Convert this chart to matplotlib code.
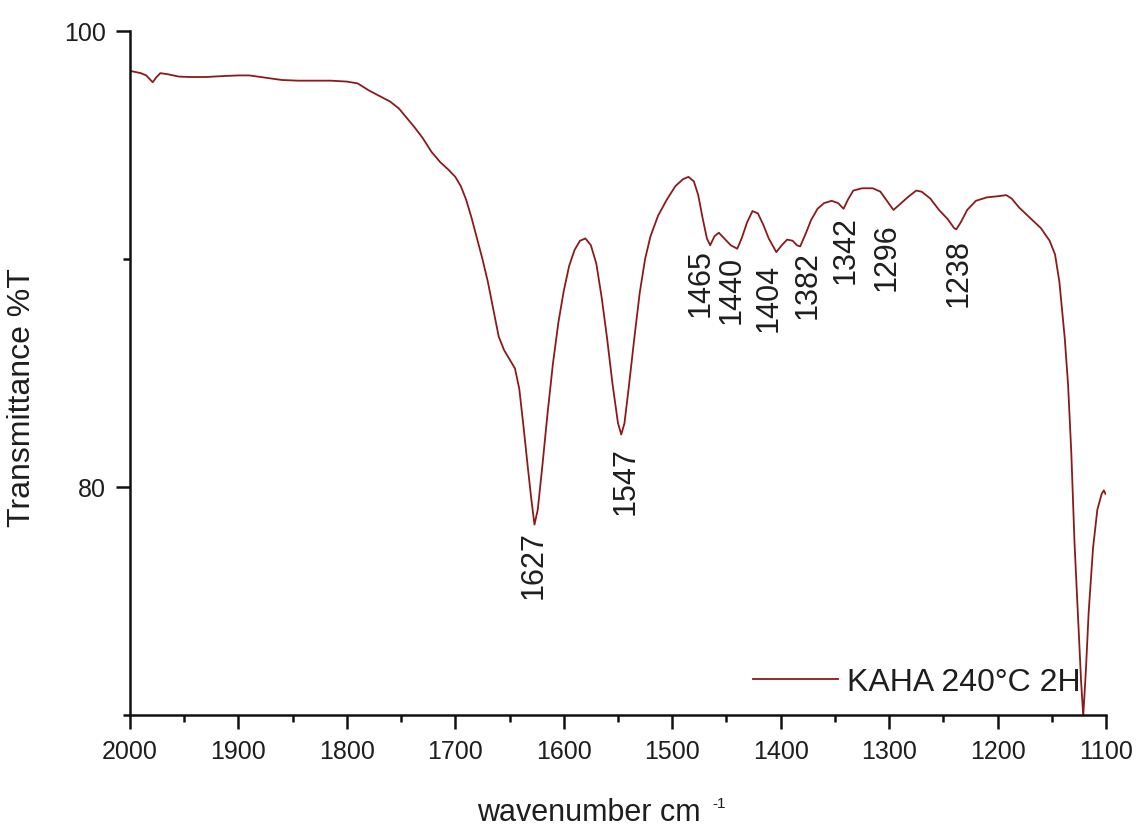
import numpy as np
import matplotlib
matplotlib.use("Agg")
import matplotlib.pyplot as plt
from matplotlib.ticker import MultipleLocator, FixedLocator

plt.rcParams['font.family'] = ['Liberation Sans', 'DejaVu Sans']

# FTIR spectrum, KAHA 240°C 2H
wavenumber = [
    2000, 1995, 1990, 1985, 1981, 1979, 1976, 1972, 1965, 1955, 1945, 1930,
    1915, 1900, 1890, 1875, 1860, 1845, 1830, 1815, 1800, 1790, 1780, 1770,
    1760, 1752, 1745, 1738, 1730, 1722, 1714, 1706, 1700, 1695, 1690, 1685,
    1680, 1675, 1670, 1665, 1660, 1655, 1650, 1645, 1641, 1637, 1633, 1630,
    1627, 1624, 1620, 1615, 1610, 1605, 1600, 1595, 1590, 1585, 1580, 1575,
    1570, 1565, 1560, 1555, 1550, 1547, 1544, 1540, 1535, 1530, 1525, 1520,
    1513, 1505, 1497, 1490, 1485, 1480, 1476, 1472, 1468, 1465, 1461, 1457,
    1452, 1446, 1440, 1436, 1431, 1426, 1421, 1416, 1411, 1404, 1399, 1394,
    1389, 1385, 1382, 1377, 1372, 1366, 1360, 1353, 1347, 1342, 1338, 1333,
    1325, 1315, 1308, 1302, 1296, 1290, 1283, 1275, 1270, 1262, 1254, 1246,
    1240, 1238, 1234, 1228, 1220, 1210, 1200, 1192, 1187, 1180, 1170, 1160,
    1152, 1147, 1143, 1138, 1135, 1132, 1129, 1126, 1123, 1121, 1118.5, 1116,
    1112, 1108, 1104, 1102, 1100.5,
]
transmittance = [
    98.25, 98.20, 98.15, 98.05, 97.85, 97.75, 97.95, 98.15, 98.10, 98.00, 97.98, 97.98,
    98.02, 98.05, 98.05, 97.95, 97.85, 97.82, 97.82, 97.82, 97.78, 97.70, 97.40, 97.15,
    96.90, 96.60, 96.20, 95.80, 95.30, 94.70, 94.25, 93.90, 93.60, 93.20, 92.60, 91.80,
    90.90, 90.00, 89.00, 87.80, 86.60, 86.00, 85.60, 85.20, 84.30, 82.60, 80.80, 79.50,
    78.35, 79.00, 80.80, 83.20, 85.40, 87.20, 88.60, 89.70, 90.40, 90.80, 90.90, 90.60,
    89.80, 88.30, 86.50, 84.50, 82.80, 82.30, 82.80, 84.40, 86.50, 88.50, 90.00, 91.00,
    91.90, 92.60, 93.20, 93.50, 93.60, 93.40, 92.80, 91.80, 90.90, 90.60, 91.00, 91.15,
    90.90, 90.60, 90.45, 90.90, 91.60, 92.10, 92.00, 91.50, 90.90, 90.30, 90.60, 90.85,
    90.80, 90.60, 90.55, 91.10, 91.70, 92.20, 92.45, 92.55, 92.45, 92.20, 92.60, 93.00,
    93.10, 93.10, 92.95, 92.55, 92.15, 92.40, 92.70, 93.00, 92.95, 92.65, 92.15, 91.75,
    91.35, 91.30, 91.60, 92.15, 92.55, 92.70, 92.75, 92.80, 92.65, 92.25, 91.80, 91.35,
    90.80, 90.20, 89.00, 86.50, 84.50, 81.50, 77.50, 74.50, 71.50, 69.95, 72.00, 74.50,
    77.30, 79.00, 79.70, 79.85, 79.70,
]

# Annotated absorption bands
peak_labels = [1627, 1547, 1465, 1440, 1404, 1382, 1342, 1296, 1238]
# Label placement relative to each band minimum (pixels): sideways nudge, gap below
label_dx = [-1, 4, -10, -6, -8, 7, 2, -7, 2]
label_gap = [6, 12, 3, 6, 11, 4, 6, 12, 9]

series_name = "KAHA 240°C 2H"
x_ticks = [2000, 1900, 1800, 1700, 1600, 1500, 1400, 1300, 1200, 1100]
y_ticks = [80, 100]

line_color = '#8b1a1a'
text_color = '#1e1e1e'
PX = 72 / 100  # points per pixel at 100 dpi

fig = plt.figure(figsize=(11.36, 8.28), dpi=100)
ax = fig.add_axes([0.1144, 0.1353, 0.8592, 0.8261])

ax.plot(wavenumber, transmittance, color=line_color, lw=1.3, label=series_name)

ax.set_xlim(2000, 1100)
ax.set_ylim(70, 100)

ax.xaxis.set_major_locator(FixedLocator(x_ticks))
ax.xaxis.set_minor_locator(MultipleLocator(50))
ax.yaxis.set_major_locator(FixedLocator(y_ticks))
ax.yaxis.set_minor_locator(FixedLocator([70, 90]))

for side in ('top', 'right'):
    ax.spines[side].set_visible(False)
for side in ('left', 'bottom'):
    ax.spines[side].set_linewidth(1.8)
    ax.spines[side].set_color('#111111')

ax.tick_params(axis='both', which='major', direction='out', length=10, width=1.8,
               labelsize=18, colors='#111111', labelcolor=text_color, pad=7)
ax.tick_params(axis='both', which='minor', direction='out', length=5, width=1.8,
               colors='#111111')

ax.set_xlabel("wavenumber cm", fontsize=22, color=text_color)
ax.xaxis.set_label_coords(0.4705, -0.12)
ax.annotate("-1", xy=(1, 1), xycoords=ax.xaxis.label, xytext=(8, 1),
            textcoords='offset points', ha='left', va='top', fontsize=11,
            color=text_color)

ax.set_ylabel("Transmittance %T", fontsize=23, color=text_color)
ax.yaxis.set_label_coords(-0.095, 0.466)

wn_rev = wavenumber[::-1]
t_rev = transmittance[::-1]
for wn, dx, gap in zip(peak_labels, label_dx, label_gap):
    t_min = np.interp(wn, wn_rev, t_rev)
    ax.annotate(str(wn), xy=(wn, t_min), xytext=(dx * PX, -gap * PX),
                textcoords='offset points', rotation=90, ha='center', va='top',
                fontsize=22, color=text_color)

leg = ax.legend(loc='center left', bbox_to_anchor=(0.638, 0.048), frameon=False,
                fontsize=23, handlelength=2.66, handletextpad=0.28,
                borderpad=0, borderaxespad=0)
for txt in leg.get_texts():
    txt.set_color(text_color)

fig.savefig("out.png", dpi=100)
